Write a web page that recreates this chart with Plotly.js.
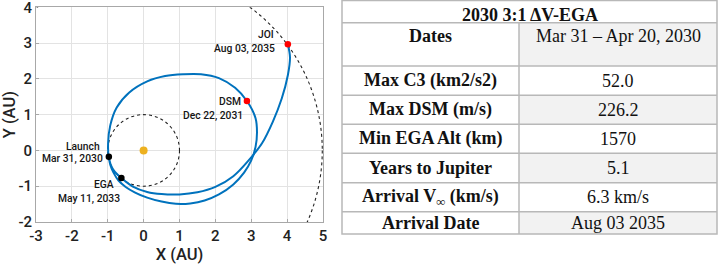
<!DOCTYPE html>
<html>
<head>
<meta charset="utf-8">
<script src="https://cdn.plot.ly/plotly-3.0.1.min.js"></script>
<style>
  html, body { margin: 0; padding: 0; background: #ffffff; }
  #chart { width: 718px; height: 267px; }
</style>
</head>
<body>
<div id="chart"></div>
<script>
// ---- trajectory data (AU, heliocentric ecliptic frame) ----
const xTickVals = [-3, -2, -1, 0, 1, 2, 3, 4, 5];
const xTickText = ['-3', '-2', '-1', '0', '1', '2', '3', '4', '5'];
const yTickVals = [-2, -1, 0, 1, 2, 3, 4];
const yTickText = ['-2', '-1', '0', '1', '2', '3', '4'];

const earthOrbitRadius = 1.0;
const jupiterOrbitRadius = 4.98;
const sunX = [0];
const sunY = [0];

// Launch -> DSM -> Earth gravity assist (first heliocentric revolution)
const leg1X = [-0.97, -0.93, -0.84, -0.70, -0.50, -0.25, 0.10, 0.50, 0.90, 1.30, 1.70, 2.10, 2.50, 2.80,
               3.00, 3.12, 3.16, 3.12, 2.88, 2.55, 2.10, 1.60, 1.10, 0.60, 0.10, -0.40, -0.75, -0.93,
               -0.99, -0.97, -0.86, -0.62];
const leg1Y = [-0.18, -0.40, -0.62, -0.84, -1.02, -1.17, -1.32, -1.43, -1.49, -1.48, -1.40, -1.23, -0.95, -0.62,
               -0.28, 0.10, 0.50, 0.90, 1.38, 1.75, 2.02, 2.13, 2.13, 2.08, 1.93, 1.62, 1.20, 0.70,
               0.20, -0.20, -0.52, -0.77];
// Earth gravity assist -> Jupiter orbit insertion
const leg2X = [-0.62, -0.30, 0.10, 0.50, 1.00, 1.50, 2.00, 2.50, 2.95, 3.30, 3.60, 3.85, 4.02, 4.08, 4.02];
const leg2Y = [-0.77, -1.01, -1.16, -1.22, -1.23, -1.17, -1.02, -0.72, -0.25, 0.20, 0.80, 1.45, 2.10, 2.60, 2.97];

const eventNames = ['Launch', 'DSM', 'EGA', 'JOI'];
const eventDates = ['Mar 31, 2030', 'Dec 22, 2031', 'May 11, 2033', 'Aug 03, 2035'];
const eventX = [-0.97, 2.88, -0.62, 4.02];
const eventY = [-0.18, 1.38, -0.77, 2.97];

// ---- summary table ----
const tableTitle = '2030 3:1 ΔV-EGA';
const rowLabels = ['Dates', 'Max C3 (km2/s2)', 'Max DSM (m/s)', 'Min EGA Alt (km)',
                   'Years to Jupiter', 'Arrival V<sub>∞</sub> (km/s)', 'Arrival Date'];
const rowValues = ['Mar 31 – Apr 20, 2030', '52.0', '226.2', '1570', '5.1', '6.3 km/s', 'Aug 03 2035'];

// ---- styling / layout constants ----
const W = 718, H = 267;
const plotBox = { left: 36, right: 323, top: 7.3, bottom: 222 };
const tableCols = [342, 519, 717];
const tableRows = [0, 22.7, 66, 95.3, 124.3, 153.3, 182.7, 211.7, 234];
const shadedValueRows = [0, 2, 4, 6];
const eventColors = ['#000000', '#ff0000', '#000000', '#ff0000'];
// label offsets (px) relative to each event marker: [nameDx, nameDy, dateDx, dateDy]
const labelOffsets = [
  [-6.7, 10.6, -4, -1.7],
  [-3.7, 0, -2, -14.3],
  [-5, -6.7, 1, -21],
  [-11.7, 9.3, -10.7, -4]
];
const sansFamily = 'Roboto, "Noto Sans", sans-serif';
const labelFont = { family: sansFamily, size: 10.3, color: '#151515', weight: 500 };
const serif = '"Liberation Serif", "Times New Roman", serif';
const blue = '#0072BD';

const px = v => v / W;
const py = v => 1 - v / H;

const traces = [
  { type: 'scatter', mode: 'lines', x: leg1X, y: leg1Y, line: { color: blue, width: 2, shape: 'spline', smoothing: 1 }, hoverinfo: 'skip' },
  { type: 'scatter', mode: 'lines', x: leg2X, y: leg2Y, line: { color: blue, width: 2, shape: 'spline', smoothing: 1 }, hoverinfo: 'skip' },
  { type: 'scatter', mode: 'markers', x: sunX, y: sunY, marker: { color: '#EDB120', size: 8 }, hoverinfo: 'skip' },
  { type: 'scatter', mode: 'markers', x: eventX, y: eventY, marker: { color: eventColors, size: 6.5 }, hoverinfo: 'skip' }
];

const shapes = [];
[earthOrbitRadius, jupiterOrbitRadius].forEach(r => {
  shapes.push({ type: 'circle', xref: 'x', yref: 'y', x0: -r, x1: r, y0: -r, y1: r,
    line: { color: '#222222', width: 1.1, dash: '3px,3px' }, layer: 'between' });
});

// table cells
shadedValueRows.forEach(i => {
  shapes.push({ type: 'rect', xref: 'paper', yref: 'paper', layer: 'below',
    x0: px(tableCols[1]), x1: px(tableCols[2]), y0: py(tableRows[i + 2]), y1: py(tableRows[i + 1]),
    fillcolor: '#f2f2f2', line: { width: 0 } });
});
const gridLine = { color: '#b8b8b8', width: 1.5 };
for (let r = 1; r < tableRows.length - 1; r++) {
  shapes.push({ type: 'line', xref: 'paper', yref: 'paper', x0: px(tableCols[0]), x1: px(tableCols[2]),
    y0: py(tableRows[r]), y1: py(tableRows[r]), line: gridLine });
}
shapes.push({ type: 'line', xref: 'paper', yref: 'paper', x0: px(tableCols[1]), x1: px(tableCols[1]),
  y0: py(tableRows[1]), y1: py(tableRows[tableRows.length - 1]), line: gridLine });
shapes.push({ type: 'rect', xref: 'paper', yref: 'paper', x0: px(tableCols[0]), x1: px(tableCols[2]),
  y0: py(tableRows[tableRows.length - 1]), y1: py(tableRows[0] + 0.5), line: gridLine });

const annotations = [];
eventNames.forEach((n, i) => {
  const o = labelOffsets[i];
  annotations.push({ x: eventX[i], y: eventY[i], xref: 'x', yref: 'y', text: n, showarrow: false,
    xanchor: 'right', yanchor: 'middle', xshift: o[0], yshift: o[1], font: labelFont });
  annotations.push({ x: eventX[i], y: eventY[i], xref: 'x', yref: 'y', text: eventDates[i], showarrow: false,
    xanchor: 'right', yanchor: 'middle', xshift: o[2], yshift: o[3], font: labelFont });
});

const tFont = { family: serif, size: 18, color: '#111111' };
annotations.push({ xref: 'paper', yref: 'paper', x: px((tableCols[0] + tableCols[2]) / 2), y: py(14.5),
  text: '<b>' + tableTitle + '</b>', showarrow: false, xanchor: 'center', yanchor: 'middle', font: tFont });
rowLabels.forEach((lab, i) => {
  const cy = i === 0 ? 36 : (tableRows[i + 1] + tableRows[i + 2]) / 2;
  annotations.push({ xref: 'paper', yref: 'paper', x: px((tableCols[0] + tableCols[1]) / 2), y: py(cy),
    text: '<b>' + lab + '</b>', showarrow: false, xanchor: 'center', yanchor: 'middle', font: tFont });
  annotations.push({ xref: 'paper', yref: 'paper', x: px((tableCols[1] + tableCols[2]) / 2), y: py(cy),
    text: rowValues[i], showarrow: false, xanchor: 'center', yanchor: 'middle', font: tFont });
});

const axisCommon = {
  showgrid: true, gridcolor: '#e3e3e3', gridwidth: 1, zeroline: false,
  showline: true, mirror: true, linecolor: '#a8a8a8', linewidth: 1,
  ticks: 'inside', ticklen: 3, tickcolor: '#a8a8a8',
  ticklabeloverflow: 'allow',
  tickfont: { family: sansFamily, size: 15, color: '#222222', weight: 500 },
  fixedrange: true
};

const layout = {
  width: W, height: H,
  margin: { l: 0, r: 0, t: 0, b: 0 },
  paper_bgcolor: '#ffffff', plot_bgcolor: '#ffffff',
  showlegend: false,
  xaxis: Object.assign({}, axisCommon, {
    domain: [px(plotBox.left), px(plotBox.right)], range: [-3, 5],
    tickvals: xTickVals, ticktext: xTickText,
    title: { text: 'X (AU)', font: { family: sansFamily, size: 16.5, color: '#222222', weight: 500 }, standoff: 2 }
  }),
  yaxis: Object.assign({}, axisCommon, {
    domain: [py(plotBox.bottom), py(plotBox.top)], range: [-2, 4],
    tickvals: yTickVals, ticktext: yTickText,
    title: { text: 'Y (AU)', font: { family: sansFamily, size: 16.5, color: '#222222', weight: 500 }, standoff: 3 }
  }),
  shapes: shapes,
  annotations: annotations
};

Plotly.newPlot('chart', traces, layout, { staticPlot: true, displayModeBar: false });
</script>
</body>
</html>
